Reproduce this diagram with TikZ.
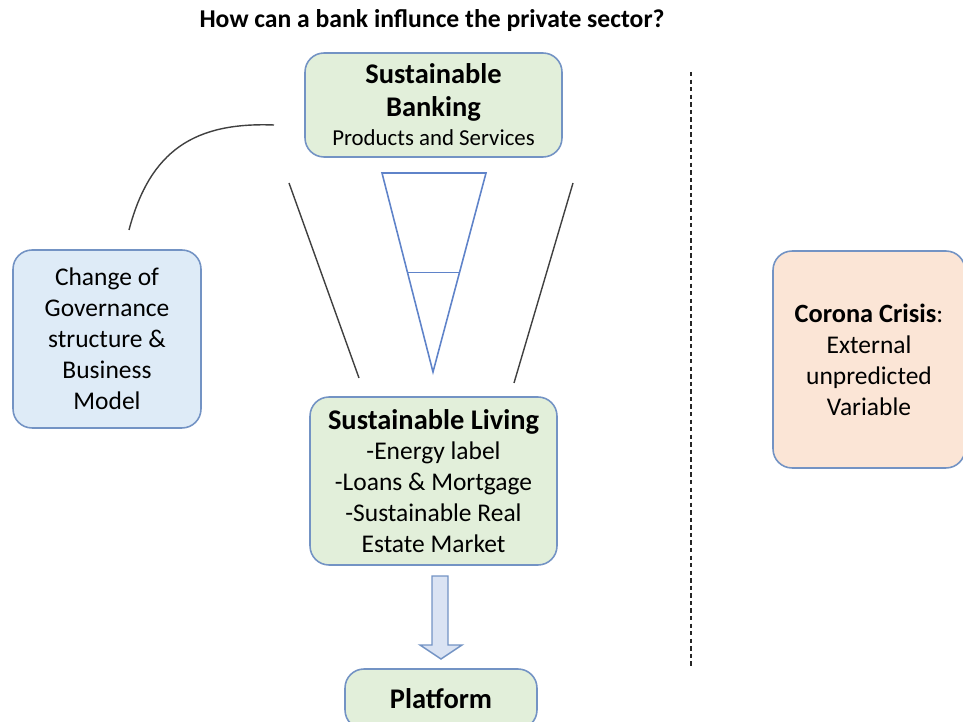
\documentclass[tikz,border=0pt]{standalone}
\usepackage{fontspec}
\setmainfont{Carlito}
\usetikzlibrary{calc}

\definecolor{boxline}{HTML}{7393C4}
\definecolor{greenfill}{HTML}{E2EFDA}
\definecolor{bluefill}{HTML}{DEEBF7}
\definecolor{peachfill}{HTML}{FBE5D6}
\definecolor{arrowfill}{HTML}{DAE3F3}
\definecolor{funnel}{HTML}{5F83C9}

\newcommand{\bodysize}{\fontsize{14.5}{17.6}\selectfont}
\newcommand{\headsize}{\fontsize{16.2}{19.5}\selectfont}
\newcommand{\smallsize}{\fontsize{13}{16}\selectfont}

\tikzset{
  roundbox/.style={draw=boxline, line width=0.9pt, rounded corners=0.38cm,
    align=center, inner sep=0pt, font=\bodysize}
}

\begin{document}
\begin{tikzpicture}[x=0.02cm, y=-0.02cm]
    \useasboundingbox (0,0) rectangle (963,722);
    \clip (0,0) rectangle (963,722);
    % Titel
    \node[font=\fontsize{14.6}{17}\selectfont\bfseries] (title) at (432,21)
        {How can a bank influnce the private sector?};
    % Kasten oben
    \node[roundbox, fill=greenfill, minimum width=5.14cm, minimum height=2.08cm]
        (banking) at (433.5,105)
        {\headsize\bfseries Sustainable\\[1pt]\headsize\bfseries Banking\\[-1pt]\smallsize\mdseries Products and Services};
    % Kasten links
    \node[roundbox, fill=bluefill, minimum width=3.76cm, minimum height=3.56cm]
        (governance) at (107,339)
        {Change of\\Governance\\structure \&\\Business\\Model};
    % Kasten rechts
    \node[roundbox, fill=peachfill, minimum width=3.84cm, minimum height=4.34cm]
        (corona) at (869,359.5)
        {{\fontsize{15}{18}\selectfont\bfseries Corona Crisis}:\\External\\unpredicted\\Variable};
    % Kasten Mitte
    \node[roundbox, fill=greenfill, minimum width=4.94cm, minimum height=3.36cm]
        (living) at (433.5,481)
        {\headsize\bfseries Sustainable Living\\\bodysize\mdseries -Energy label\\\bodysize -Loans \& Mortgage\\\bodysize -Sustainable Real\\\bodysize Estate Market};
    % Kasten unten
    \node[roundbox, fill=greenfill, minimum width=3.84cm, minimum height=1.2cm]
        (platform) at (441,699)
        {\headsize\bfseries Platform};

    % Trichter
    \coordinate (ftl) at (382,173);
    \coordinate (ftr) at (486,173);
    \coordinate (ftip) at (433,372);
    \draw[funnel, line width=0.9pt] (ftl) -- (ftr) -- (ftip) -- cycle;
    \draw[funnel, line width=0.9pt] ($(ftl)!0.5!(ftip)$) -- ($(ftr)!0.5!(ftip)$);

    % Seitenlinien
    \coordinate (ll1) at (289,183);
    \coordinate (ll2) at (359,378);
    \coordinate (rl1) at (573,183);
    \coordinate (rl2) at (514,383);
    \draw[black!75, line width=0.8pt] (ll1) -- (ll2);
    \draw[black!75, line width=0.8pt] (rl1) -- (rl2);

    % Bogen von links nach oben
    \coordinate (cstart) at (129,230);
    \coordinate (cend) at (274,125);
    \draw[black!75, line width=0.8pt] (cstart) .. controls (150,150) and (195,122) .. (cend);

    % Blockpfeil
    \draw[boxline, fill=arrowfill, line width=0.8pt]
        (432,576) -- (448,576) -- (448,645) -- (462,645) -- (441,659)
        -- (420,645) -- (432,645) -- cycle;

    % Trennlinie
    \coordinate (dtop) at (691,72);
    \coordinate (dbot) at (691,668);
    \draw[black!85, line width=0.8pt, dash pattern=on 2.5pt off 1.8pt] (dtop) -- (dbot);
\end{tikzpicture}
\end{document}
